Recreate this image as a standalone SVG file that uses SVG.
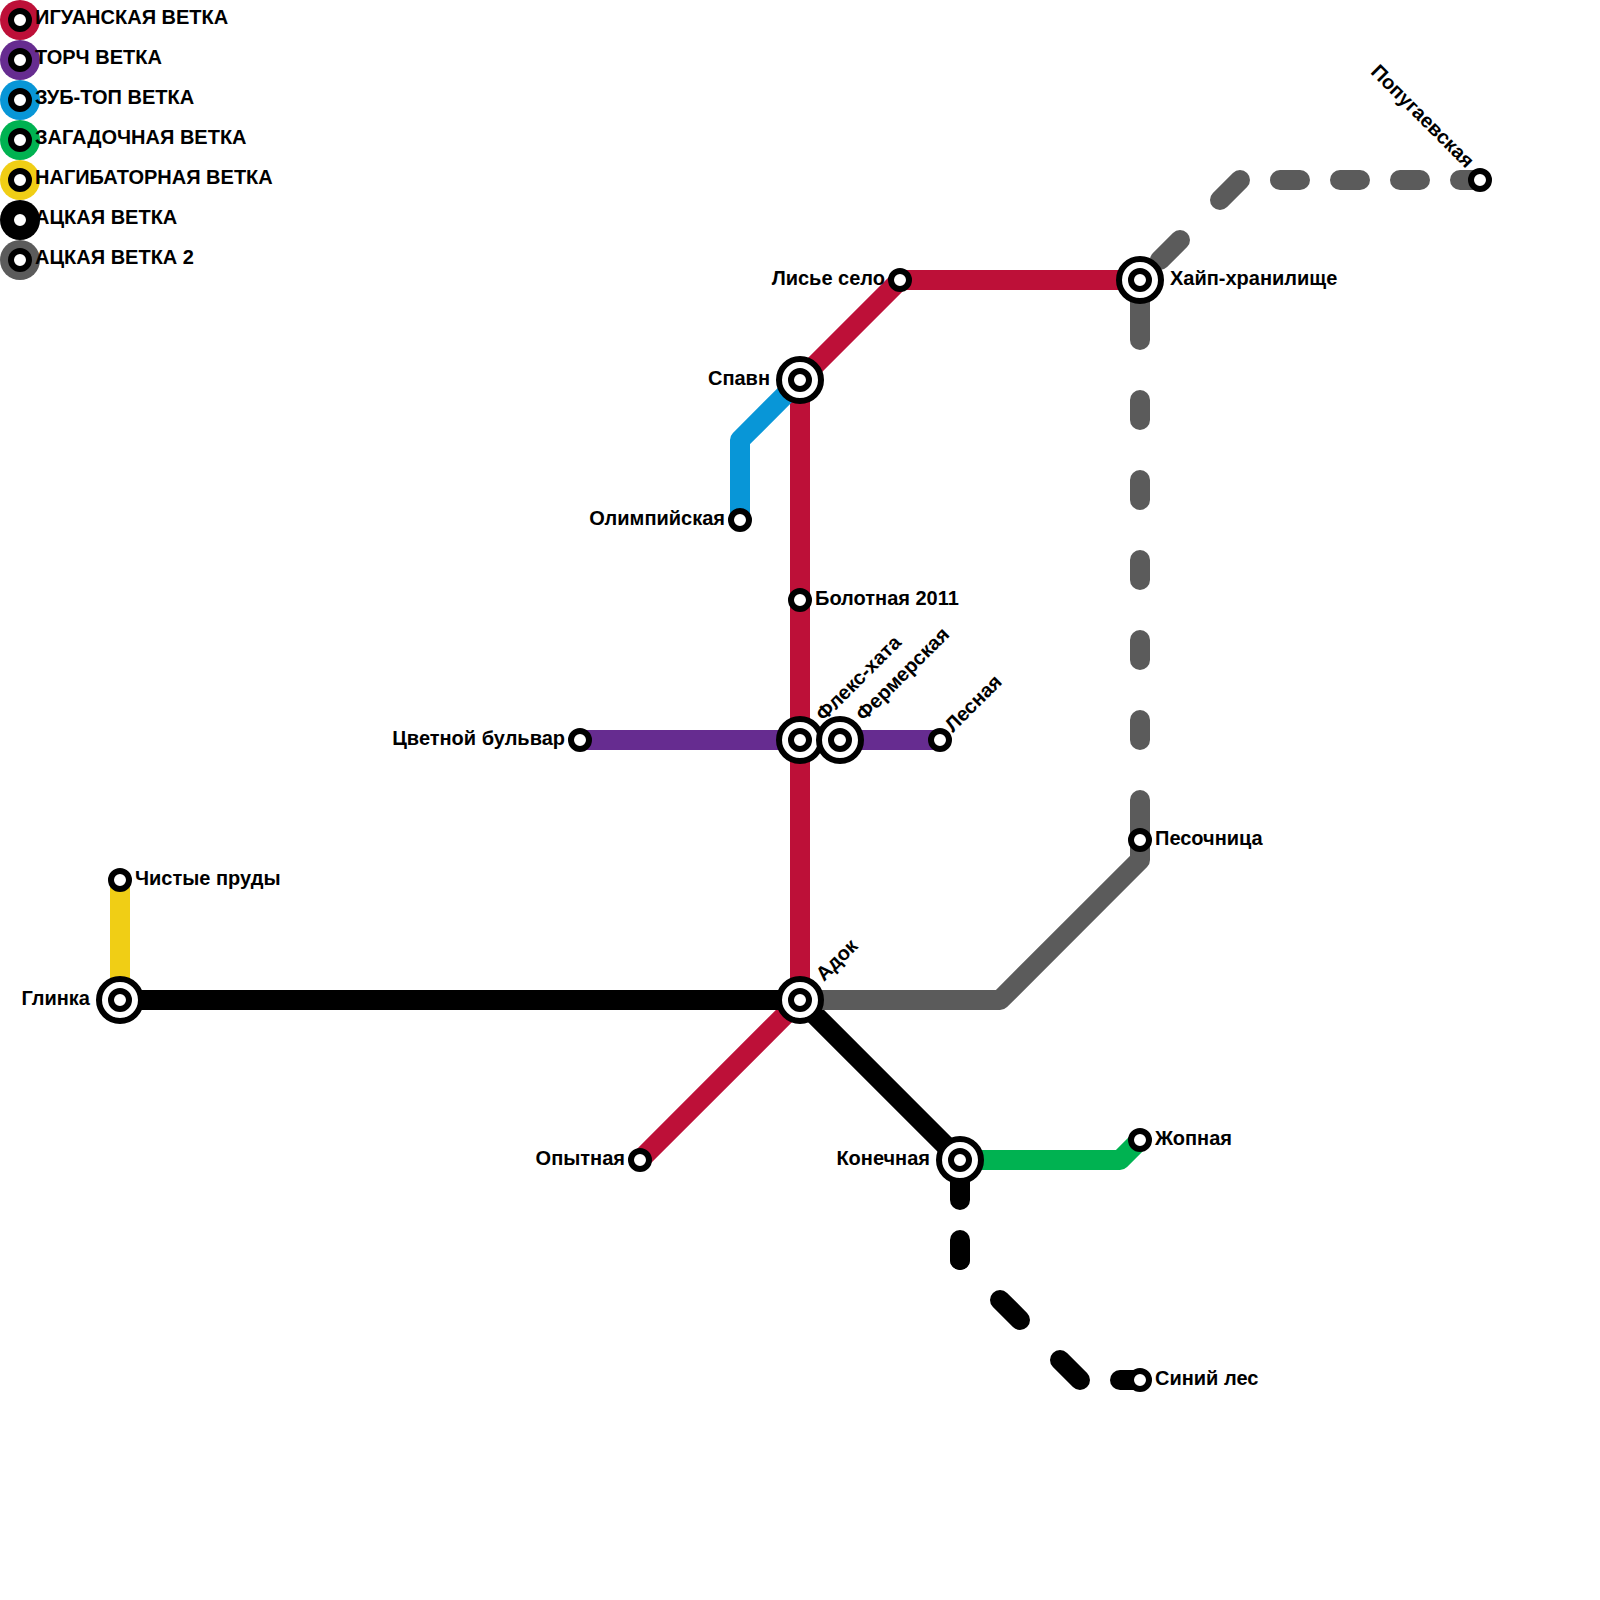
<svg xmlns="http://www.w3.org/2000/svg" width="1600" height="1600" viewBox="0 0 1600 1600">
<style>
.l{fill:none;stroke-width:20;stroke-linejoin:round}
.d{stroke-linecap:round;stroke-dasharray:20 40}
.dd{stroke-linecap:round;stroke-dasharray:28.28 56.57}
.dv{stroke-linecap:round;stroke-dasharray:20 60}
.c{stroke-linecap:round}
.r{stroke:#bd1038}.p{stroke:#662c90}.b{stroke:#0896d7}.g{stroke:#00b251}.y{stroke:#f0ce15}.k{stroke:#000}.s{stroke:#5b5b5b}
.o{fill:#fff;stroke:#000;stroke-width:6}
text{font-family:"Liberation Sans",Arial,sans-serif;font-weight:700;font-size:20px;fill:#000}
</style>
<defs>
<g id="st"><circle class="o" r="9"/></g>
<g id="ic"><circle class="o" r="21"/><circle class="o" r="9"/></g>
</defs>
<g id="connectors">
<path class="l r" d="M640 1160L800 1000V380L900 280H1140"/>
<path class="l p" d="M580 740H940"/>
<path class="l b" d="M740 520V440L800 380"/>
<path class="l g" d="M960 1160H1120L1140 1140"/>
<path class="l y" d="M120 880V1000"/>
<path class="l k" d="M120 1000H800L960 1160"/>
<path class="l s c" d="M800 1000H1000L1140 860V800"/>
<path class="l s d" d="M1480 180H1240"/>
<path class="l s dd" d="M1240 180L1140 280"/>
<path class="l s dv" d="M1140 740V340"/>
<path class="l s c" d="M1140 340V280"/>
<path class="l k d" d="M1140 1380H1080"/>
<path class="l k dd" d="M1080 1380L960 1260"/>
<path class="l k d" d="M960 1260V1160"/>
</g>
<g id="legend">
<g id="legend-1"><circle cx="20" cy="20" r="20" fill="#bd1038"/><use href="#st" x="20" y="20"/><text x="35" y="24.3">ИГУАНСКАЯ ВЕТКА</text></g>
<g id="legend-2"><circle cx="20" cy="60" r="20" fill="#662c90"/><use href="#st" x="20" y="60"/><text x="35" y="64.3">ТОРЧ ВЕТКА</text></g>
<g id="legend-3"><circle cx="20" cy="100" r="20" fill="#0896d7"/><use href="#st" x="20" y="100"/><text x="35" y="104.3">ЗУБ-ТОП ВЕТКА</text></g>
<g id="legend-4"><circle cx="20" cy="140" r="20" fill="#00b251"/><use href="#st" x="20" y="140"/><text x="35" y="144.3">ЗАГАДОЧНАЯ ВЕТКА</text></g>
<g id="legend-5"><circle cx="20" cy="180" r="20" fill="#f0ce15"/><use href="#st" x="20" y="180"/><text x="35" y="184.3">НАГИБАТОРНАЯ ВЕТКА</text></g>
<g id="legend-6"><circle cx="20" cy="220" r="20" fill="#000"/><use href="#st" x="20" y="220"/><text x="35" y="224.3">АЦКАЯ ВЕТКА</text></g>
<g id="legend-7"><circle cx="20" cy="260" r="20" fill="#5b5b5b"/><use href="#st" x="20" y="260"/><text x="35" y="264.3">АЦКАЯ ВЕТКА 2</text></g>
</g>
<g id="n-opytnaya"><use href="#st" x="640" y="1160"/><text x="625" y="1165" text-anchor="end">Опытная</text></g>
<g id="n-lisie"><use href="#st" x="900" y="280"/><text x="885" y="285" text-anchor="end">Лисье село</text></g>
<g id="n-hype"><use href="#ic" x="1140" y="280"/><text x="1170" y="285">Хайп-хранилище</text></g>
<g id="n-spawn"><use href="#ic" x="800" y="380"/><text x="770" y="385" text-anchor="end">Спавн</text></g>
<g id="n-bolotnaya"><use href="#st" x="800" y="600"/><text x="815" y="605">Болотная 2011</text></g>
<g id="n-flex"><use href="#ic" x="800" y="740"/><text transform="translate(824 722) rotate(-45)">Флекс-хата</text></g>
<g id="n-adok"><use href="#ic" x="800" y="1000"/><text transform="translate(824 982) rotate(-45)">Адок</text></g>
<g id="n-olimp"><use href="#st" x="740" y="520"/><text x="725" y="525" text-anchor="end">Олимпийская</text></g>
<g id="n-cvetnoy"><use href="#st" x="580" y="740"/><text x="565" y="745" text-anchor="end">Цветной бульвар</text></g>
<g id="n-fermer"><use href="#ic" x="840" y="740"/><text transform="translate(864 722) rotate(-45)">Фермерская</text></g>
<g id="n-lesnaya"><use href="#st" x="940" y="740"/><text transform="translate(953 733) rotate(-45)">Лесная</text></g>
<g id="n-glinka"><use href="#ic" x="120" y="1000"/><text x="90" y="1005" text-anchor="end">Глинка</text></g>
<g id="n-chistye"><use href="#st" x="120" y="880"/><text x="135" y="885">Чистые пруды</text></g>
<g id="n-konechnaya"><use href="#ic" x="960" y="1160"/><text x="930" y="1165" text-anchor="end">Конечная</text></g>
<g id="n-zhopnaya"><use href="#st" x="1140" y="1140"/><text x="1155" y="1145">Жопная</text></g>
<g id="n-siniy"><use href="#st" x="1140" y="1380"/><text x="1155" y="1385">Синий лес</text></g>
<g id="n-pesochnica"><use href="#st" x="1140" y="840"/><text x="1155" y="845">Песочница</text></g>
<g id="n-popug"><use href="#st" x="1480" y="180"/><text transform="translate(1466 169) rotate(45)" text-anchor="end">Попугаевская</text></g>
</svg>
